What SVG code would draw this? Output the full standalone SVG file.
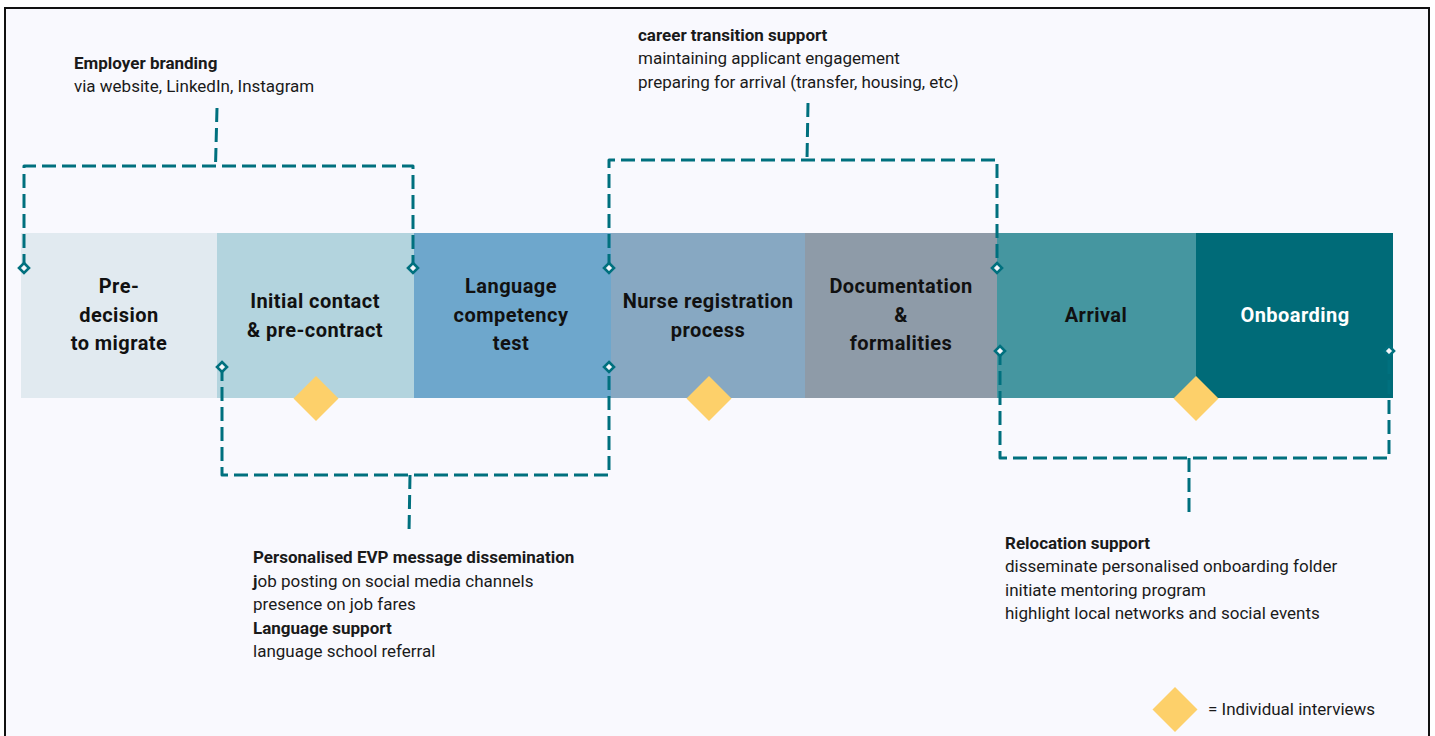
<svg xmlns="http://www.w3.org/2000/svg" width="1435" height="736" viewBox="0 0 1435 736">
  <defs>
    <style>
      .stage-label { font-family: Roboto, "Liberation Sans", sans-serif; font-weight: bold; font-size: 20px; letter-spacing: 0.45px; fill: #111; text-anchor: middle; }
      .stage-label.light { fill: #ffffff; }
      .note { font-family: Roboto, "Liberation Sans", sans-serif; font-size: 17px; fill: #1a1a1a; }
      .note .head { font-weight: bold; }
      .bracket { fill: none; stroke: #00707e; stroke-width: 3; stroke-dasharray: 14 6; stroke-linejoin: round; marker-start: url(#tip); marker-end: url(#tip); }
      .stem { fill: none; stroke: #00707e; stroke-width: 3; stroke-dasharray: 14 6; }
      .interview { fill: #fdd06a; }
    </style>
    <marker id="tip" viewBox="-7 -7 14 14" markerWidth="14" markerHeight="14" markerUnits="userSpaceOnUse" refX="0" refY="0" orient="0">
      <path d="M0 -5 L5 0 L0 5 L-5 0 Z" fill="#f3f6fa" stroke="#00707e" stroke-width="2.6"/>
    </marker>
  </defs>

  <!-- page -->
  <rect x="0" y="0" width="1435" height="736" fill="#ffffff"/>
  <rect x="5" y="8" width="1424" height="740" fill="#f9f9fe" stroke="#111" stroke-width="2"/>

  <!-- timeline stages -->
  <g id="stage-predecision">
    <rect x="21" y="233" width="196" height="165" fill="#e1eaf0"/>
    <text class="stage-label" x="119" y="293">Pre-</text>
    <text class="stage-label" x="119" y="322">decision</text>
    <text class="stage-label" x="119" y="350">to migrate</text>
  </g>
  <g id="stage-initial-contact">
    <rect x="217" y="233" width="197" height="165" fill="#b3d4de"/>
    <text class="stage-label" x="315" y="308">Initial contact</text>
    <text class="stage-label" x="315" y="337">&amp; pre-contract</text>
  </g>
  <g id="stage-language-test">
    <rect x="414" y="233" width="197" height="165" fill="#6ea7cc"/>
    <text class="stage-label" x="511" y="293">Language</text>
    <text class="stage-label" x="511" y="322">competency</text>
    <text class="stage-label" x="511" y="350">test</text>
  </g>
  <g id="stage-registration">
    <rect x="611" y="233" width="194" height="165" fill="#87a8c2"/>
    <text class="stage-label" x="708" y="308">Nurse registration</text>
    <text class="stage-label" x="708" y="337">process</text>
  </g>
  <g id="stage-documentation">
    <rect x="805" y="233" width="192" height="165" fill="#8e9ba8"/>
    <text class="stage-label" x="901" y="293">Documentation</text>
    <text class="stage-label" x="901" y="322">&amp;</text>
    <text class="stage-label" x="901" y="350">formalities</text>
  </g>
  <g id="stage-arrival">
    <rect x="997" y="233" width="199" height="165" fill="#4596a0"/>
    <text class="stage-label" x="1096" y="322">Arrival</text>
  </g>
  <g id="stage-onboarding">
    <rect x="1196" y="233" width="197" height="165" fill="#006b78"/>
    <text class="stage-label light" x="1295" y="322">Onboarding</text>
  </g>

  <!-- interview points -->
  <g id="interviews">
    <path class="interview" d="M316 376 L338.5 398.5 L316 421 L293.5 398.5 Z"/>
    <path class="interview" d="M709 376 L731.5 398.5 L709 421 L686.5 398.5 Z"/>
    <path class="interview" d="M1196 376 L1218.5 398.5 L1196 421 L1173.5 398.5 Z"/>
  </g>

  <!-- support brackets -->
  <g id="connectors">
    <path class="bracket" d="M24 268 V166 H413 V268"/>
    <path class="stem" d="M217 108 L215.5 166"/>
    <path class="bracket" d="M609 268 V160 H997 V268"/>
    <path class="stem" d="M808 103 L807 160"/>
    <path class="bracket" d="M222 367 V475 H609 V367"/>
    <path class="stem" d="M410 475 L409 533"/>
    <path class="bracket" d="M1000 351 V458 H1389 V351"/>
    <path class="stem" d="M1189 458 L1189 517"/>
  </g>

  <!-- notes -->
  <g id="note-employer-branding" class="note">
    <text x="74" y="69" class="head">Employer branding</text>
    <text x="74" y="92">via website, LinkedIn, Instagram</text>
  </g>
  <g id="note-career-transition" class="note">
    <text x="638" y="41" class="head">career transition support</text>
    <text x="638" y="64">maintaining applicant engagement</text>
    <text x="638" y="88">preparing for arrival (transfer, housing, etc)</text>
  </g>
  <g id="note-evp" class="note">
    <text x="253" y="563" class="head">Personalised EVP message dissemination</text>
    <text x="253" y="587"><tspan class="head">j</tspan>ob posting on social media channels</text>
    <text x="253" y="610">presence on job fares</text>
    <text x="253" y="634" class="head">Language support</text>
    <text x="253" y="657">language school referral</text>
  </g>
  <g id="note-relocation" class="note">
    <text x="1005" y="549" class="head">Relocation support</text>
    <text x="1005" y="572">disseminate personalised onboarding folder</text>
    <text x="1005" y="596">initiate mentoring program</text>
    <text x="1005" y="619">highlight local networks and social events</text>
  </g>

  <!-- legend -->
  <g id="legend">
    <path class="interview" d="M1175 687 L1197.5 709.5 L1175 732 L1152.5 709.5 Z"/>
    <text class="note" x="1208" y="715">= Individual interviews</text>
  </g>
</svg>
